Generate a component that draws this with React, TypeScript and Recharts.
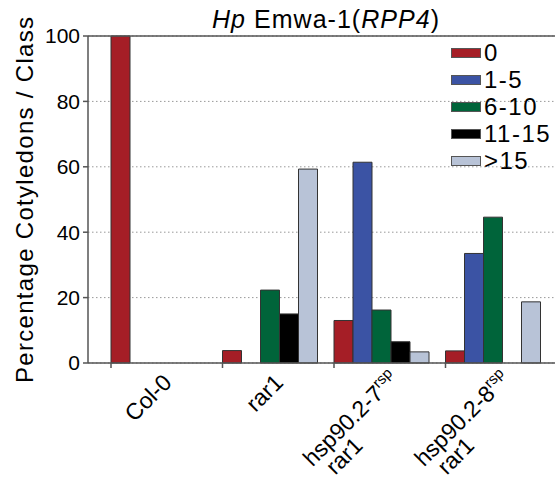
import { BarChart, Bar, XAxis, YAxis, CartesianGrid, ReferenceLine } from "recharts";

const groups = ["Col-0", "rar1", "hsp90.2-7", "hsp90.2-8"];
const groupSup = ["", "", "rsp", "rsp"];
const groupLine2 = ["", "", "rar1", "rar1"];

const classNames = ["0", "1-5", "6-10", "11-15", ">15"];
const class0 = [100, 3.8, 13.0, 3.7];
const class1to5 = [0, 0, 61.4, 33.5];
const class6to10 = [0, 22.3, 16.2, 44.6];
const class11to15 = [0, 15.0, 6.5, 0];
const classOver15 = [0, 59.3, 3.4, 18.7];

const yTicks = [0, 20, 40, 60, 80, 100];

const colors = ["#a51e26", "#3b53a4", "#00643a", "#000000", "#b8c3d7"];
const seriesKeys = ["c0", "c1", "c2", "c3", "c4"];
const seriesValues = [class0, class1to5, class6to10, class11to15, classOver15];

const data = groups.map((g, i) => {
  const row: Record<string, string | number> = { name: g };
  seriesKeys.forEach((k, s) => {
    row[k] = seriesValues[s][i];
  });
  return row;
});

const FONT = '"Liberation Sans", Arial, Helvetica, sans-serif';
const AXIS = "#555";
const BAR_STROKE = "#333";

// chart geometry
const W = 555;
const H = 489;
const TOP = 36;
const Y_AXIS_W = 88;
const X_AXIS_H = 126;
const PAD_L = 13.7;
const PAD_R = 7.3;
const GAP = 9.3;
const BAND = (W - Y_AXIS_W - PAD_L - PAD_R) / groups.length;
const BAR_W = (BAND - 2 * GAP) / seriesKeys.length;
const AXIS_Y = H - X_AXIS_H;

// tick mark at the left edge of each group's first bar
function GroupTick(props: any) {
  const { x, y } = props;
  const left = x - (seriesKeys.length / 2) * BAR_W;
  return <line x1={left} x2={left} y1={y} y2={y + 5} stroke={AXIS} strokeWidth={1.5} />;
}

function GroupLabels() {
  const d = Math.SQRT1_2;
  return (
    <g>
      {groups.map((g, i) => {
        const left = Y_AXIS_W + PAD_L + i * BAND + GAP;
        const ax = left + 62;
        const ay = AXIS_Y + 21;
        const sx = ax + (groupSup[i] ? 5 * d : 0);
        const sy = ay - (groupSup[i] ? 5 * d : 0);
        const l2x = ax - 67 * d + 22 * d;
        const l2y = ay + 67 * d + 22 * d;
        return (
          <g key={g}>
            <text
              x={sx}
              y={sy}
              transform={`rotate(-45, ${sx}, ${sy})`}
              textAnchor="end"
              fontSize={23}
              fontFamily={FONT}
              fill="#000"
            >
              {g}
              {groupSup[i] ? (
                <tspan fontSize={15} dy={-9}>
                  {groupSup[i]}
                </tspan>
              ) : null}
            </text>
            {groupLine2[i] ? (
              <text
                x={l2x}
                y={l2y}
                transform={`rotate(-45, ${l2x}, ${l2y})`}
                textAnchor="end"
                fontSize={23}
                fontFamily={FONT}
                fill="#000"
              >
                {groupLine2[i]}
              </text>
            ) : null}
          </g>
        );
      })}
    </g>
  );
}

export default function App() {
  return (
    <div style={{ position: "absolute", left: 0, top: 0, width: W, height: H, background: "#fff" }}>
      <BarChart
        width={W}
        height={H}
        data={data}
        margin={{ top: TOP, right: 0, bottom: 0, left: 0 }}
        barCategoryGap={GAP}
        barGap={0}
      >
        <CartesianGrid vertical={false} stroke="#999" strokeDasharray="1.5 2.5" />
        <XAxis
          dataKey="name"
          height={X_AXIS_H}
          padding={{ left: PAD_L, right: PAD_R }}
          axisLine={{ stroke: AXIS, strokeWidth: 1.5 }}
          tickLine={false}
          tickSize={0}
          tickMargin={0}
          interval={0}
          tick={(p: any) => <GroupTick {...p} />}
        />
        <YAxis
          width={Y_AXIS_W}
          domain={[0, 100]}
          ticks={yTicks}
          interval={0}
          axisLine={{ stroke: AXIS, strokeWidth: 1.5 }}
          tickLine={{ stroke: AXIS, strokeWidth: 1.5 }}
          tickSize={5}
          tickMargin={3}
          tick={{ fontSize: 21, fill: "#000", fontFamily: FONT }}
        />
        <ReferenceLine y={100} stroke={AXIS} strokeWidth={1.5} />
        {seriesKeys.map((k, s) => (
          <Bar
            key={k}
            dataKey={k}
            name={classNames[s]}
            fill={colors[s]}
            stroke={BAR_STROKE}
            strokeWidth={1}
            isAnimationActive={false}
          />
        ))}
      </BarChart>

      <svg width={W} height={H} style={{ position: "absolute", left: 0, top: 0, pointerEvents: "none" }}>
        <text
          x={212}
          y={28}
          fontSize={25}
          fontFamily={FONT}
          fill="#000"
          textLength={227}
          lengthAdjust="spacing"
        >
          <tspan fontStyle="italic">Hp</tspan> Emwa-1(<tspan fontStyle="italic">RPP4</tspan>)
        </text>
        <text
          x={33}
          y={200}
          transform="rotate(-90, 33, 200)"
          textAnchor="middle"
          fontSize={24}
          fontFamily={FONT}
          fill="#000"
          textLength={366}
          lengthAdjust="spacing"
        >
          Percentage Cotyledons / Class
        </text>
        <GroupLabels />
      </svg>

      <div style={{ position: "absolute", left: 451, top: 39, fontFamily: FONT }}>
        {classNames.map((c, s) => (
          <div key={c} style={{ display: "flex", alignItems: "center", height: 27 }}>
            <div
              style={{
                width: 28,
                height: 8,
                background: colors[s],
                border: "1px solid #555",
                marginRight: 3,
              }}
            />
            <span style={{ fontSize: 24, letterSpacing: "1.5px", lineHeight: "27px", color: "#000" }}>{c}</span>
          </div>
        ))}
      </div>
    </div>
  );
}
